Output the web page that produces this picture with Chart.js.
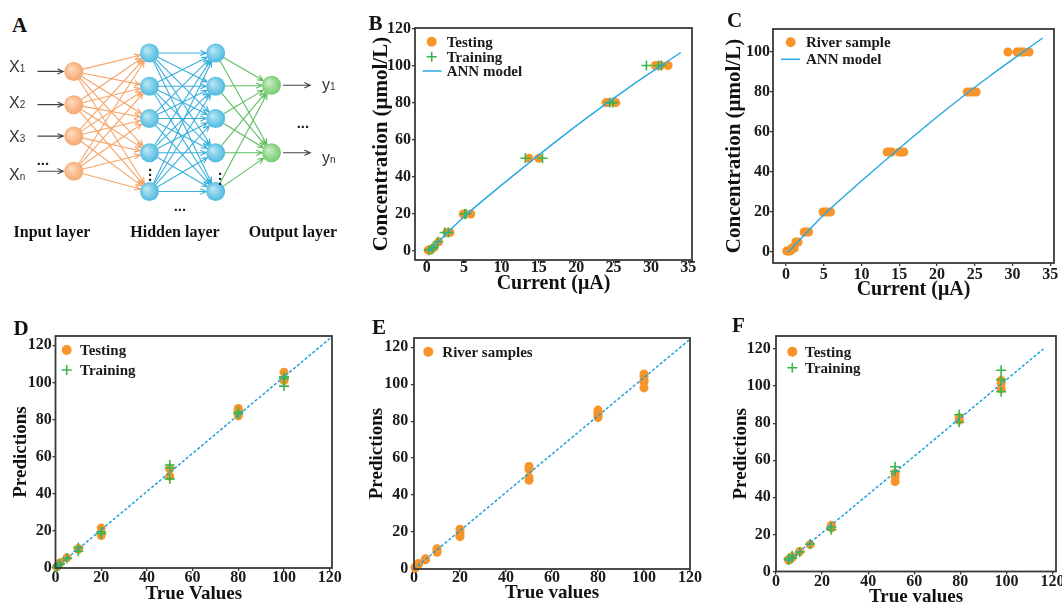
<!DOCTYPE html>
<html><head><meta charset="utf-8">
<script src="https://cdn.jsdelivr.net/npm/chart.js@4.4.0/dist/chart.umd.min.js"></script>
<style>
html,body{margin:0;padding:0;background:#fff;}
#wrap{position:relative;width:1062px;height:607px;overflow:hidden;background:#fff;}
canvas{position:absolute;}
.t{position:absolute;font-family:"Liberation Serif","Times New Roman",serif;font-weight:bold;color:#111;white-space:nowrap;line-height:1;}
.s{position:absolute;font-family:"Liberation Sans",Arial,sans-serif;color:#333;white-space:nowrap;line-height:1;}
</style></head><body><div id="wrap"></div>
<script>
// ---------------- DATA ----------------
// Panel A network (layer positions / node positions in diagram units)
const layerX = [68, 148, 218, 277];
const inputNodeY = [67, 103, 137, 175];
const hiddenNodeY = [47, 83, 118, 155, 197];
const outputNodeY = [82, 155];
const inputLabels = ["1", "2", "3", "n"];
const outputLabels = ["1", "n"];
const layerNames = ["Input layer", "Hidden layer", "Output layer"];

// Panel B
const bTestCurrent = [0.2,0.5,0.6,1.0,1.6,2.7,3.1,4.9,5.9,13.7,15.0,24.0,24.3,25.3,30.6,31.3,32.3];
const bTestConc    = [0.5,0.5,1,2,5,10,10,20,20,50,50,80,80,80,100,100,100];
const bTrainCurrent = [0.3,0.7,0.9,1.5,2.4,2.9,5.1,5.3,13.2,15.5,24.5,24.9,29.4,31.0,31.4];
const bTrainConc    = [0.5,1,2,5,10,10,20,20,50,50,80,80,100,100,100];
const annCurrent = [0.3,5,10,20,27,34];
const annConc    = [0,18.5,35.5,67.5,88,107];
const currentTicks = [0,5,10,15,20,25,30,35];
const concTicksB = [0,20,40,60,80,100,120];
const concTicksC = [0,20,40,60,80,100];

// Panel C
const cRiverCurrent = [0.1,0.3,0.5,0.5,0.7,0.8,1.0,1.1,1.3,1.6,2.4,2.7,3.0,4.9,5.2,5.5,5.9,13.4,13.7,14.0,15.0,15.3,15.6,24.0,24.4,24.8,25.2,29.4,30.6,30.9,31.2,31.5,32.2];
const cRiverConc    = [0.5,0.5,0.5,1,1,2,2,2,5,5,10,10,10,20,20,20,20,50,50,50,50,50,50,80,80,80,80,100,100,100,100,100,100];

// Panel D
const dTestTrue  = [0.5,1,2,5,10,10,20,20,50,50,80,80,80,100,100];
const dTestPred  = [0.6,1.1,2.8,5.5,10.5,10.0,21.5,17.5,53.5,49.5,86,82,85,105.5,101];
const dTrainTrue = [0.5,1,2,5,10,10,20,20,50,50,50,80,80,100,100,100];
const dTrainPred = [0.3,1.3,2.2,5.2,9,11,19.5,18.5,55.5,54,48,84,83,103,98,102];
const dLineX = [0,121], dLineY = [0,124.6];

// Panel E
const eRiverTrue = [0.5,0.5,1,2,2,5,5,10,10,10,20,20,20,20,50,50,50,50,80,80,80,80,80,100,100,100,100,100];
const eRiverPred = [0.5,1,1.5,2.5,3,5,5.5,9,10,11,17.5,18.5,20,21.5,48,49.5,54,55.5,82,83,84,85,86,98,101,102,104,105.5];
const eLineX = [0,120], eLineY = [0,124.3];

// Panel F
const fTestTrue  = [5.5,5.5,7,7,10.3,14.8,24,24,51.7,51.7,51.7,79.5,79.5,97.7,97.7,97.7];
const fTestPred  = [6,6.5,7.5,8,10.8,14.5,25,23.5,53,51,48.5,83,81.5,103,101.5,98.5];
const fTrainTrue = [5.5,5.5,7,7,10.3,14.8,24,24,51.7,51.7,79.5,79.5,97.7,97.7,97.7];
const fTrainPred = [7,6.2,8.5,7.2,10.5,14.8,22.5,24,56.5,54,84.5,80.5,108.5,103.5,97];
const fLineX = [5,116], fLineY = [5.4,120];

const valueTicks = [0,20,40,60,80,100,120];

// ---------------- STYLE ----------------
const ORANGE = '#F7942A', GREEN = '#3DB54A', BLUE = '#2AA9E0', DASH = '#1EA0DD';
const SERIF = '"Liberation Serif","Times New Roman",serif';
const wrap = document.getElementById('wrap');
const zip = (xs, ys) => xs.map((v, i) => ({x: v, y: ys[i]}));

function addText(cls, html, left, top, size, extra) {
  const d = document.createElement('div');
  d.className = cls; d.innerHTML = html;
  d.style.left = left + 'px'; d.style.top = top + 'px'; d.style.fontSize = size + 'px';
  if (extra) Object.assign(d.style, extra);
  wrap.appendChild(d);
  return d;
}

const framePlugin = {
  id: 'frame',
  afterDatasetsDraw(chart) {
    const {ctx, chartArea: a} = chart;
    ctx.save(); ctx.strokeStyle = '#3a3a3a'; ctx.lineWidth = 1.8;
    ctx.strokeRect(a.left, a.top, a.right - a.left, a.bottom - a.top);
    ctx.restore();
  }
};

const miniLegend = {
  id: 'miniLegend',
  afterDraw(chart, args, opts) {
    if (!opts || !opts.items) return;
    const {ctx, chartArea: a} = chart;
    ctx.save();
    ctx.font = 'bold 15px ' + SERIF;
    ctx.textBaseline = 'middle';
    opts.items.forEach(it => {
      const ds = chart.data.datasets[it.ds];
      const mx = a.left + it.mx, my = a.top + it.dy;
      if (it.kind === 'circle') {
        ctx.fillStyle = ds.backgroundColor; ctx.beginPath(); ctx.arc(mx, my, 5, 0, Math.PI * 2); ctx.fill();
      } else if (it.kind === 'plus') {
        ctx.strokeStyle = ds.borderColor; ctx.lineWidth = 1.6; ctx.beginPath();
        ctx.moveTo(mx - 5, my); ctx.lineTo(mx + 5, my); ctx.moveTo(mx, my - 5); ctx.lineTo(mx, my + 5); ctx.stroke();
      } else {
        ctx.strokeStyle = ds.borderColor; ctx.lineWidth = 1.5; ctx.beginPath();
        ctx.moveTo(mx - 9.5, my); ctx.lineTo(mx + 9.5, my); ctx.stroke();
      }
      ctx.fillStyle = '#1a1a1a';
      ctx.fillText(ds.label, a.left + it.tx, my + 1);
    });
    ctx.restore();
  }
};

function panel(cfg) {
  const padL = 2, padT = 14, padR = 16, padB = 2;
  const lhY = cfg.yFont * 1.2, lhX = cfg.xFont * 1.2;
  const cl = Math.round(cfg.yTitleX - lhY / 2 - padL);
  const ct = Math.round(cfg.box.t - padT);
  const cr = Math.round(cfg.box.r + padR);
  const cb = Math.round(cfg.xTitleY + lhX / 2 + padB);
  const W = cr - cl, H = cb - ct;
  const cv = document.createElement('canvas');
  cv.width = W; cv.height = H;
  cv.style.left = cl + 'px'; cv.style.top = ct + 'px';
  cv.style.width = W + 'px'; cv.style.height = H + 'px';
  wrap.appendChild(cv);
  const tickFont = {family: SERIF, weight: 'bold', size: 16, lineHeight: 1};
  new Chart(cv, {
    type: 'scatter',
    data: {datasets: cfg.datasets},
    options: {
      responsive: false, animation: false, devicePixelRatio: 1,
      layout: {padding: {left: padL, top: padT, right: padR, bottom: padB}},
      plugins: {legend: {display: false}, tooltip: {enabled: false}, miniLegend: {items: cfg.legend}},
      scales: {
        x: {
          type: 'linear', min: cfg.xMin, max: cfg.xMax,
          afterBuildTicks: s => { s.ticks = cfg.xTicks.map(v => ({value: v})); },
          afterFit: s => { s.height = (H - padB) - (cfg.box.b - ct); },
          ticks: {font: tickFont, color: '#1a1a1a', padding: cfg.xPad, maxRotation: 0, autoSkip: false},
          grid: {drawOnChartArea: false, drawTicks: true, tickLength: 3, color: '#3a3a3a', lineWidth: 1.3},
          border: {display: false},
          title: {display: true, text: cfg.xTitle, color: '#111', padding: 0, font: {family: SERIF, weight: 'bold', size: cfg.xFont}}
        },
        y: {
          type: 'linear', min: cfg.yMin, max: cfg.yMax,
          afterBuildTicks: s => { s.ticks = cfg.yTicks.map(v => ({value: v})); },
          afterFit: s => { s.width = cfg.box.l - cl - padL; },
          ticks: {font: tickFont, color: '#1a1a1a', padding: cfg.yPad, autoSkip: false},
          grid: {drawOnChartArea: false, drawTicks: true, tickLength: 3, color: '#3a3a3a', lineWidth: 1.3},
          border: {display: false},
          title: {display: true, text: cfg.yTitle, color: '#111', padding: 0, font: {family: SERIF, weight: 'bold', size: cfg.yFont}}
        }
      }
    },
    plugins: [framePlugin, miniLegend]
  });
}

const testSet = (label, xs, ys, order) => ({label, data: zip(xs, ys), backgroundColor: ORANGE, borderWidth: 0,
  pointRadius: 4.5, pointStyle: 'circle', showLine: false, clip: false, order});
const trainSet = (label, xs, ys, order) => ({label, data: zip(xs, ys), borderColor: GREEN, backgroundColor: GREEN,
  borderWidth: 1.6, pointRadius: 5, pointStyle: 'cross', showLine: false, clip: false, order});
const solidLine = (label, xs, ys, order) => ({label, data: zip(xs, ys), borderColor: BLUE, backgroundColor: BLUE,
  borderWidth: 1.5, pointRadius: 0, showLine: true, cubicInterpolationMode: 'monotone', order});
const dashLine = (label, xs, ys, order) => ({label, data: zip(xs, ys), borderColor: DASH, backgroundColor: DASH,
  borderWidth: 1.5, borderDash: [3, 2], pointRadius: 0, showLine: true, order});

// Panel B
panel({
  box: {l: 415, t: 28, r: 692, b: 260}, yTitleX: 381.5, xTitleY: 284, yFont: 21, xFont: 20,
  xMin: -1.56, xMax: 35.5, yMin: -4.8, yMax: 120.2, xTicks: currentTicks, yTicks: concTicksB,
  xPad: -3.5, yPad: 1, xTitle: 'Current (μA)', yTitle: 'Concentration (μmol/L)',
  datasets: [testSet('Testing', bTestCurrent, bTestConc, 3), trainSet('Training', bTrainCurrent, bTrainConc, 2),
             solidLine('ANN model', annCurrent, annConc, 1)],
  legend: [{ds: 0, kind: 'circle', mx: 16.7, dy: 13.7, tx: 31.7}, {ds: 1, kind: 'plus', mx: 16.7, dy: 28.7, tx: 31.7},
           {ds: 2, kind: 'line', mx: 17.2, dy: 43, tx: 31.7}]
});
// Panel C
panel({
  box: {l: 773, t: 29, r: 1054, b: 263}, yTitleX: 735, xTitleY: 290, yFont: 21, xFont: 20,
  xMin: -1.72, xMax: 35.5, yMin: -5.5, yMax: 111.5, xTicks: currentTicks, yTicks: concTicksC,
  xPad: 0.5, yPad: 0, xTitle: 'Current (μA)', yTitle: 'Concentration (μmol/L)',
  datasets: [testSet('River sample', cRiverCurrent, cRiverConc, 2), solidLine('ANN model', annCurrent, annConc, 1)],
  legend: [{ds: 0, kind: 'circle', mx: 17.7, dy: 13.3, tx: 33}, {ds: 1, kind: 'line', mx: 17.5, dy: 30.3, tx: 33}]
});
// Panel D
panel({
  box: {l: 55.5, t: 336, r: 332, b: 568}, yTitleX: 21.7, xTitleY: 594, yFont: 19, xFont: 19,
  xMin: 0, xMax: 121, yMin: 0, yMax: 125, xTicks: valueTicks, yTicks: valueTicks,
  xPad: -1, yPad: 0.8, xTitle: 'True Values', yTitle: 'Predictions',
  datasets: [testSet('Testing', dTestTrue, dTestPred, 3), trainSet('Training', dTrainTrue, dTrainPred, 2),
             dashLine('fit', dLineX, dLineY, 1)],
  legend: [{ds: 0, kind: 'circle', mx: 11.2, dy: 14, tx: 24.5}, {ds: 1, kind: 'plus', mx: 11.2, dy: 34, tx: 24.5}]
});
// Panel E
panel({
  box: {l: 414, t: 338, r: 690, b: 569}, yTitleX: 377.7, xTitleY: 593, yFont: 19, xFont: 19,
  xMin: 0, xMax: 120, yMin: 0, yMax: 125, xTicks: valueTicks, yTicks: valueTicks,
  xPad: -2, yPad: 2.7, xTitle: 'True values', yTitle: 'Predictions',
  datasets: [testSet('River samples', eRiverTrue, eRiverPred, 2), dashLine('fit', eLineX, eLineY, 1)],
  legend: [{ds: 0, kind: 'circle', mx: 14.3, dy: 13.7, tx: 28.3}]
});
// Panel F
panel({
  box: {l: 776, t: 336, r: 1056, b: 571.5}, yTitleX: 741, xTitleY: 596.5, yFont: 19, xFont: 19,
  xMin: 0, xMax: 121.5, yMin: 0, yMax: 127, xTicks: valueTicks, yTicks: valueTicks,
  xPad: -0.8, yPad: 2.3, xTitle: 'True values', yTitle: 'Predictions',
  datasets: [testSet('Testing', fTestTrue, fTestPred, 3), trainSet('Training', fTrainTrue, fTrainPred, 2),
             dashLine('fit', fLineX, fLineY, 1)],
  legend: [{ds: 0, kind: 'circle', mx: 16.3, dy: 15.7, tx: 29}, {ds: 1, kind: 'plus', mx: 16.3, dy: 31.7, tx: 29}]
});

// panel letters
[['A', 12, 14.5], ['B', 368.5, 13], ['C', 727, 9.8], ['D', 13.5, 318], ['E', 372, 316.5], ['F', 732, 314.8]]
  .forEach(p => addText('t', p[0], p[1], p[2], 21));

// ---------------- Panel A (network diagram) ----------------
(function () {
  const cv = document.createElement('canvas');
  cv.width = 350; cv.height = 250;
  cv.style.left = '0px'; cv.style.top = '0px'; cv.style.width = '350px'; cv.style.height = '250px';
  wrap.appendChild(cv);
  const R = 9.5;
  function sphere(c1, c2) {
    return ctx => {
      const ch = ctx.chart;
      if (!ctx.raw || !ch.scales || !ch.scales.x || !ch.scales.y) return c2;
      const px = ch.scales.x.getPixelForValue(ctx.raw.x), py = ch.scales.y.getPixelForValue(ctx.raw.y);
      if (!isFinite(px) || !isFinite(py)) return c2;
      const g = ch.ctx.createRadialGradient(px - 3, py - 3, 1, px, py, R + 1);
      g.addColorStop(0, c1); g.addColorStop(1, c2);
      return g;
    };
  }
  function edge(ctx, x1, y1, x2, y2, color, r1, r2, lw) {
    const dx = x2 - x1, dy = y2 - y1, L = Math.hypot(dx, dy), ux = dx / L, uy = dy / L;
    const sx = x1 + ux * r1, sy = y1 + uy * r1, ex = x2 - ux * r2, ey = y2 - uy * r2;
    const h = 6, a = 0.42, c = Math.cos(a), s = Math.sin(a);
    ctx.strokeStyle = color; ctx.lineWidth = lw;
    ctx.beginPath(); ctx.moveTo(sx, sy); ctx.lineTo(ex, ey);
    ctx.moveTo(ex - h * (ux * c - uy * s), ey - h * (uy * c + ux * s));
    ctx.lineTo(ex, ey);
    ctx.lineTo(ex - h * (ux * c + uy * s), ey - h * (uy * c - ux * s));
    ctx.stroke();
  }
  const netPlugin = {
    id: 'net',
    beforeDatasetsDraw(chart) {
      const {ctx, scales: {x, y}} = chart;
      const X = v => x.getPixelForValue(v), Y = v => y.getPixelForValue(v);
      ctx.save(); ctx.lineCap = 'round';
      inputNodeY.forEach(a => hiddenNodeY.forEach(b => edge(ctx, X(layerX[0]), Y(a), X(layerX[1]), Y(b), '#F5A468', R, R, 1.1)));
      hiddenNodeY.forEach(a => hiddenNodeY.forEach(b => edge(ctx, X(layerX[1]), Y(a), X(layerX[2]), Y(b), '#3BB0DC', R, R, 1.1)));
      hiddenNodeY.forEach(a => outputNodeY.forEach(b => edge(ctx, X(layerX[2]), Y(a), X(layerX[3]), Y(b), '#5DBF5E', R, R, 1.1)));
      inputNodeY.forEach(a => edge(ctx, X(30), Y(a), X(layerX[0]), Y(a), '#444', 0, R + 1, 1.1));
      outputNodeY.forEach(b => edge(ctx, X(layerX[3]), Y(b), X(318), Y(b), '#444', R + 2.5, 0, 1.1));
      ctx.restore();
    }
  };
  const nodeSet = (xv, ys, c1, c2) => ({data: ys.map(v => ({x: xv, y: v})), pointRadius: R, borderWidth: 0,
    backgroundColor: sphere(c1, c2), showLine: false, clip: false});
  // text of panel A
  inputNodeY.forEach((v, i) => addText('s', 'X<span style="font-size:10px">' + inputLabels[i] + '</span>', 9, v - 8, 16));
  outputNodeY.forEach((v, i) => addText('s', 'y<span style="font-size:10px">' + outputLabels[i] + '</span>', 322, v - 5, 16));
  const hdots = [[43, 164], [180, 210], [303, 127]];
  hdots.forEach(p => addText('s', '...', p[0] - 6.3, p[1] - 11.7, 15, {fontWeight: 'bold', color: '#222'}));
  const vdots = [[150, 175], [220, 179]];
  vdots.forEach(p => addText('s', '.<br>.<br>.', p[0] - 2.1, p[1] - 11.7, 15, {fontWeight: 'bold', color: '#222', lineHeight: '5px'}));
  const layerCenters = [52, 175, 293];
  layerNames.forEach((n, i) => addText('t', n, layerCenters[i], 224, 16, {transform: 'translateX(-50%)'}));
  new Chart(cv, {
    type: 'scatter',
    data: {datasets: [
      nodeSet(layerX[0], inputNodeY, '#FDD9BC', '#F5A367'),
      nodeSet(layerX[1], hiddenNodeY, '#B5E5F4', '#45B6DD'),
      nodeSet(layerX[2], hiddenNodeY, '#B5E5F4', '#45B6DD'),
      nodeSet(layerX[3], outputNodeY, '#C6EDC1', '#6CC868')
    ]},
    options: {
      responsive: false, animation: false, devicePixelRatio: 1,
      layout: {padding: 0},
      plugins: {legend: {display: false}, tooltip: {enabled: false}},
      scales: {x: {display: false, min: 0, max: 350}, y: {display: false, min: 0, max: 250, reverse: true}}
    },
    plugins: [netPlugin]
  });
})();
</script>
</body></html>
